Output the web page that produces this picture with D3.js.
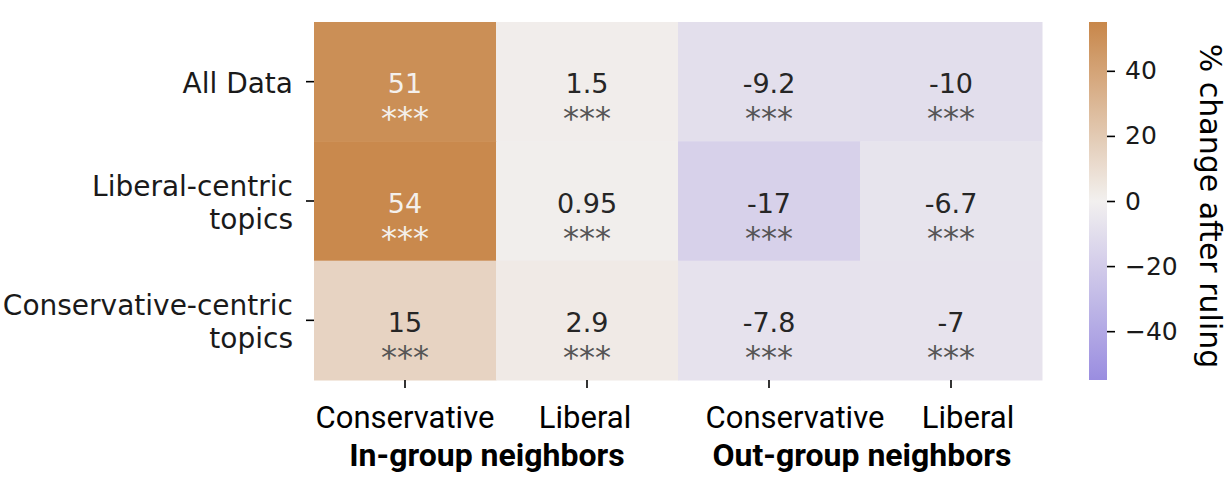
<!DOCTYPE html>
<html>
<head>
<meta charset="utf-8">
<script src="https://cdn.jsdelivr.net/npm/d3@7"></script>
<style>
  body { margin: 0; background: white; }
  svg { display: block; }
</style>
</head>
<body>
<svg id="chart" width="1230" height="478"></svg>
<script>
const rowNames = ['All Data', 'Liberal-centric\ntopics', 'Conservative-centric\ntopics'];
const colNames = ['Conservative', 'Liberal', 'Conservative', 'Liberal'];
const groupNames = ['In-group neighbors', 'Out-group neighbors'];
const allData = [51, 1.5, -9.2, -10];
const liberalTopics = [54, 0.95, -17, -6.7];
const conservativeTopics = [15, 2.9, -7.8, -7];
const cellLabels = [
  ['51', '1.5', '-9.2', '-10'],
  ['54', '0.95', '-17', '-6.7'],
  ['15', '2.9', '-7.8', '-7'],
];
const stars = ['***', '***', '***', '***'];
const colorTicks = [40, 20, 0, -20, -40];

const values = [allData, liberalTopics, conservativeTopics];
const cells = [];
values.forEach((row, r) => row.forEach((v, c) => cells.push({ r, c, v, label: cellLabels[r][c], star: stars[c] })));

const svg = d3.select('#chart');
const plotLeft = 314, plotRight = 1042, plotTop = 22, plotBottom = 380;

// the bottom labels were placed by hand in the original, not exactly under the ticks
const colLabelShift = [0, -2, 26, 17];
const groupLabelShift = [-9, 2];

const x = d3.scaleBand().domain(d3.range(colNames.length)).range([plotLeft, plotRight]);
const y = d3.scaleBand().domain(d3.range(rowNames.length)).range([plotTop, plotBottom]);

const color = d3.scaleLinear()
  .domain([-55, 0, 55])
  .range(['#9a8de0', '#f2f0ef', '#c8874a'])
  .interpolate(d3.interpolateRgb);

const dark = v => Math.abs(v) > 35;

svg.append('g')
  .selectAll('rect')
  .data(cells)
  .join('rect')
    .attr('x', d => x(d.c))
    .attr('y', d => y(d.r))
    .attr('width', x.bandwidth() + 0.5)
    .attr('height', y.bandwidth() + 0.5)
    .attr('fill', d => color(d.v));

const annot = svg.append('g')
  .attr('font-family', 'DejaVu Sans')
  .attr('text-anchor', 'middle');

annot.selectAll('text.val')
  .data(cells)
  .join('text')
    .attr('class', 'val')
    .attr('x', d => x(d.c) + x.bandwidth() / 2)
    .attr('y', d => y(d.r) + y.bandwidth() / 2 + 11.5)
    .attr('font-size', 27)
    .attr('fill', d => dark(d.v) ? '#f4f0ec' : '#262626')
    .text(d => d.label);

annot.selectAll('text.star')
  .data(cells)
  .join('text')
    .attr('class', 'star')
    .attr('x', d => x(d.c) + x.bandwidth() / 2)
    .attr('y', d => y(d.r) + y.bandwidth() / 2 + 47.5)
    .attr('font-size', 32)
    .attr('fill', d => dark(d.v) ? '#f4f0ec' : '#555555')
    .text(d => d.star);

// y axis
const yAxis = svg.append('g')
  .attr('transform', `translate(${plotLeft},0)`)
  .call(d3.axisLeft(y).tickSize(8).tickFormat(''));
yAxis.select('.domain').remove();
yAxis.selectAll('.tick line').attr('stroke', '#000').attr('stroke-width', 1.6);
yAxis.selectAll('.tick text').remove();

const yLab = svg.append('g')
  .attr('font-family', 'DejaVu Sans')
  .attr('font-size', 28)
  .attr('fill', '#1a1a1a')
  .attr('text-anchor', 'end');
rowNames.forEach((name, i) => {
  const lines = name.split('\n');
  const lh = 33;
  const cy = y(i) + y.bandwidth() / 2;
  const t = yLab.append('text')
    .attr('y', cy + 11 - (lines.length - 1) * lh / 2);
  lines.forEach((ln, k) => {
    t.append('tspan').attr('x', 293).attr('dy', k ? lh : 0).text(ln);
  });
});

// x axis
const xAxis = svg.append('g')
  .attr('transform', `translate(0,${plotBottom})`)
  .call(d3.axisBottom(x).tickSize(8).tickFormat(''));
xAxis.select('.domain').remove();
xAxis.selectAll('.tick line').attr('stroke', '#000').attr('stroke-width', 1.6);
xAxis.selectAll('.tick text').remove();

svg.append('g')
  .attr('font-family', 'Roboto')
  .attr('font-size', 31)
  .attr('fill', '#000')
  .attr('text-anchor', 'middle')
  .selectAll('text')
  .data(colNames)
  .join('text')
    .attr('x', (d, i) => x(i) + x.bandwidth() / 2 + colLabelShift[i])
    .attr('y', 428)
    .text(d => d);

svg.append('g')
  .attr('font-family', 'Roboto')
  .attr('font-weight', 'bold')
  .attr('font-size', 32)
  .attr('fill', '#000')
  .attr('text-anchor', 'middle')
  .selectAll('text')
  .data(groupNames)
  .join('text')
    .attr('x', (d, i) => x(i * 2) + x.bandwidth() + groupLabelShift[i])
    .attr('y', 466)
    .text(d => d);

// colour bar
const cbX = 1089, cbW = 18;
const cb = d3.scaleLinear().domain([-55, 55]).range([plotBottom, plotTop]);

const grad = svg.append('defs').append('linearGradient')
  .attr('id', 'cbGrad')
  .attr('x1', 0).attr('y1', 1).attr('x2', 0).attr('y2', 0);
grad.selectAll('stop')
  .data(d3.range(0, 1.0001, 0.05))
  .join('stop')
    .attr('offset', d => d)
    .attr('stop-color', d => color(-55 + d * 110));

svg.append('rect')
  .attr('x', cbX)
  .attr('y', plotTop)
  .attr('width', cbW)
  .attr('height', plotBottom - plotTop)
  .attr('fill', 'url(#cbGrad)');

const cbAxis = svg.append('g')
  .attr('transform', `translate(${cbX + cbW},0)`)
  .call(d3.axisRight(cb).tickValues(colorTicks).tickSize(8).tickPadding(10)
    .tickFormat(d => d < 0 ? '\u2212' + Math.abs(d) : d));
cbAxis.select('.domain').remove();
cbAxis.selectAll('.tick line').attr('stroke', '#000').attr('stroke-width', 1.6);
cbAxis.selectAll('.tick text')
  .attr('font-family', 'DejaVu Sans')
  .attr('font-size', 25)
  .attr('fill', '#1a1a1a');

svg.append('text')
  .attr('transform', `translate(1200,${(plotTop + plotBottom) / 2 + 5}) rotate(90)`)
  .attr('font-family', 'DejaVu Sans')
  .attr('font-size', 30)
  .attr('fill', '#000')
  .attr('text-anchor', 'middle')
  .text('% change after ruling');
</script>
</body>
</html>
